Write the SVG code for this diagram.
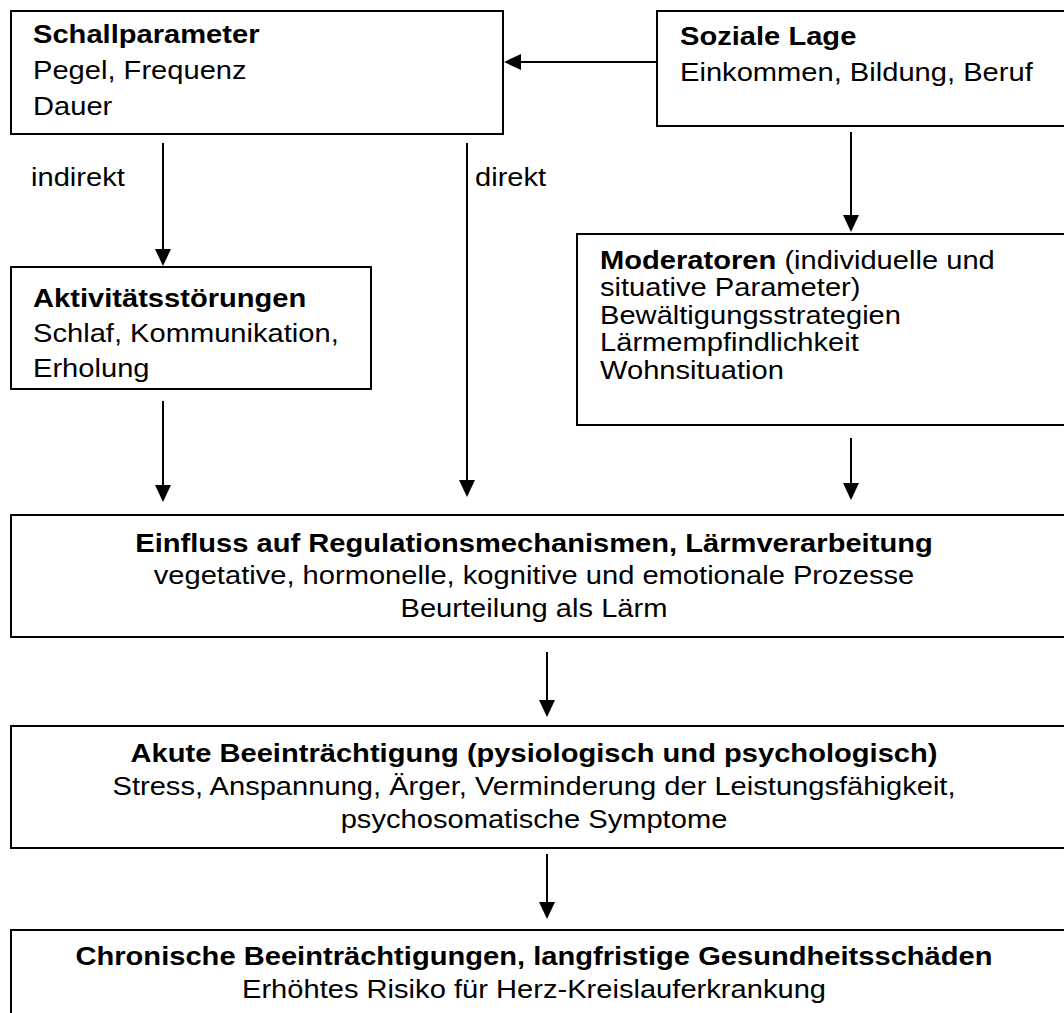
<svg xmlns="http://www.w3.org/2000/svg" width="1064" height="1013" viewBox="0 0 1064 1013">
<style>
.box{fill:#fff;stroke:#000;stroke-width:2}
text{font-family:"Liberation Sans",Arial,sans-serif;font-size:26px;fill:#000}
.b{font-weight:bold}
.c{text-anchor:middle}
.con line{stroke:#000;stroke-width:2}
</style>
<defs>
<marker id="ah" viewBox="0 0 17 16" refX="9" refY="8" markerWidth="17" markerHeight="16" markerUnits="userSpaceOnUse" orient="auto">
<path d="M0,0 L17,8 L0,16 z" fill="#000"/>
</marker>
</defs>
<rect width="1064" height="1013" fill="#fff"/>
<g id="schallparameter">
<rect class="box" x="11" y="11" width="492" height="123"/>
<text class="b" transform="translate(33,43) scale(1.12,1)">Schallparameter</text>
<text transform="translate(33,79) scale(1.12,1)">Pegel, Frequenz</text>
<text transform="translate(33,115) scale(1.12,1)">Dauer</text>
</g>
<g id="soziale-lage">
<rect class="box" x="657" y="11" width="420" height="115"/>
<text class="b" transform="translate(680,45) scale(1.12,1)">Soziale Lage</text>
<text transform="translate(680,81) scale(1.12,1)">Einkommen, Bildung, Beruf</text>
</g>
<g id="labels">
<text transform="translate(31,186) scale(1.12,1)">indirekt</text>
<text transform="translate(475,186) scale(1.12,1)">direkt</text>
</g>
<g id="aktivitaetsstoerungen">
<rect class="box" x="11" y="267" width="360" height="122"/>
<text class="b" transform="translate(33,307) scale(1.12,1)">Aktivitätsstörungen</text>
<text transform="translate(33,342) scale(1.12,1)">Schlaf, Kommunikation,</text>
<text transform="translate(33,377) scale(1.12,1)">Erholung</text>
</g>
<g id="moderatoren">
<rect class="box" x="577" y="234" width="500" height="191"/>
<text transform="translate(600,269) scale(1.12,1)"><tspan class="b">Moderatoren</tspan> (individuelle und</text>
<text transform="translate(600,296) scale(1.12,1)">situative Parameter)</text>
<text transform="translate(600,324) scale(1.12,1)">Bewältigungsstrategien</text>
<text transform="translate(600,351) scale(1.12,1)">Lärmempfindlichkeit</text>
<text transform="translate(600,379) scale(1.12,1)">Wohnsituation</text>
</g>
<g id="einfluss">
<rect class="box" x="11" y="515" width="1066" height="122"/>
<text class="b c" transform="translate(534,552) scale(1.12,1)">Einfluss auf Regulationsmechanismen, Lärmverarbeitung</text>
<text class="c" transform="translate(534,584) scale(1.12,1)">vegetative, hormonelle, kognitive und emotionale Prozesse</text>
<text class="c" transform="translate(534,617) scale(1.12,1)">Beurteilung als Lärm</text>
</g>
<g id="akute">
<rect class="box" x="11" y="726" width="1066" height="122"/>
<text class="b c" transform="translate(534,762) scale(1.12,1)">Akute Beeinträchtigung (pysiologisch und psychologisch)</text>
<text class="c" transform="translate(534,795) scale(1.12,1)">Stress, Anspannung, Ärger, Verminderung der Leistungsfähigkeit,</text>
<text class="c" transform="translate(534,828) scale(1.12,1)">psychosomatische Symptome</text>
</g>
<g id="chronische">
<rect class="box" x="11" y="930" width="1066" height="100"/>
<text class="b c" transform="translate(534,965) scale(1.12,1)">Chronische Beeinträchtigungen, langfristige Gesundheitsschäden</text>
<text class="c" transform="translate(534,998) scale(1.12,1)">Erhöhtes Risiko für Herz-Kreislauferkrankung</text>
</g>
<g class="con" id="connectors">
<line x1="656" y1="62" x2="512" y2="62" marker-end="url(#ah)"/>
<line x1="163" y1="143" x2="163" y2="258" marker-end="url(#ah)"/>
<line x1="467" y1="143" x2="467" y2="489" marker-end="url(#ah)"/>
<line x1="851" y1="132" x2="851" y2="224" marker-end="url(#ah)"/>
<line x1="163" y1="401" x2="163" y2="494" marker-end="url(#ah)"/>
<line x1="851" y1="438" x2="851" y2="492" marker-end="url(#ah)"/>
<line x1="547" y1="652" x2="547" y2="709" marker-end="url(#ah)"/>
<line x1="547" y1="854" x2="547" y2="911" marker-end="url(#ah)"/>
</g>
</svg>
